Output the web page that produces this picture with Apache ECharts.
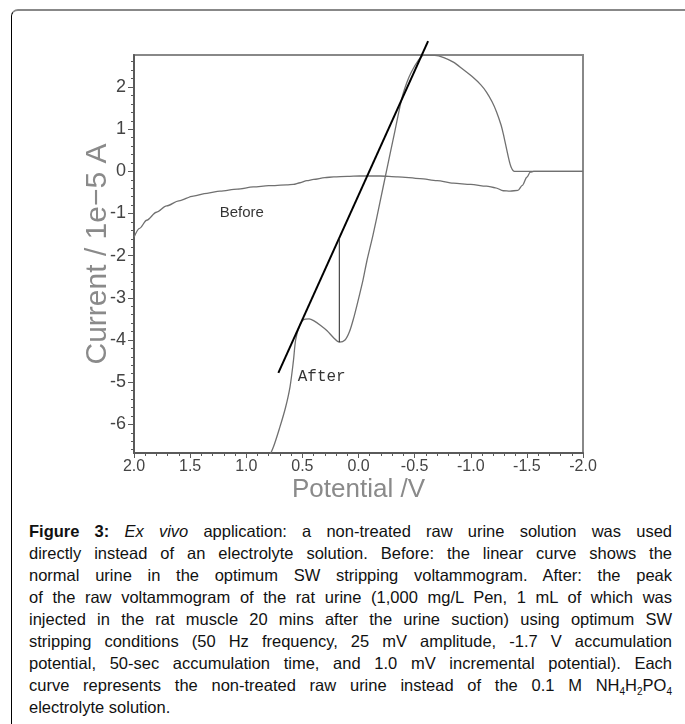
<!DOCTYPE html>
<html>
<head>
<meta charset="utf-8">
<script src="https://cdn.jsdelivr.net/npm/echarts@6/dist/echarts.min.js"></script>
<style>
  html, body { margin: 0; padding: 0; background: #fff; }
  body { width: 685px; height: 724px; position: relative; overflow: hidden; }
  #frame {
    position: absolute; left: 11px; top: 9px; width: 700px; height: 760px;
    border-top: 2px solid #888; border-left: 1px solid #000;
    border-top-left-radius: 7px;
  }
  #chart { position: absolute; left: 0; top: 0; width: 685px; height: 510px; }
  #caption {
    position: absolute; left: 29px; top: 520px; width: 643px;
    font-family: "Liberation Sans", Arial, sans-serif; font-size: 16.5px;
    line-height: 22px; color: #111;
  }
  #caption div { text-align: justify; text-align-last: justify; white-space: nowrap; }
  #caption div.last { text-align-last: left; }
  #caption sub { font-size: 10px; line-height: 0; }
</style>
</head>
<body>
<div id="frame"></div>
<div id="chart"></div>
<div id="caption">
  <div><b>Figure 3:</b> <i>Ex vivo</i> application: a non-treated raw urine solution was used</div>
  <div>directly instead of an electrolyte solution. Before: the linear curve shows the</div>
  <div>normal urine in the optimum SW stripping voltammogram. After: the peak</div>
  <div>of the raw voltammogram of the rat urine (1,000 mg/L Pen, 1 mL of which was</div>
  <div>injected in the rat muscle 20 mins after the urine suction) using optimum SW</div>
  <div>stripping conditions (50 Hz frequency, 25 mV amplitude, -1.7 V accumulation</div>
  <div>potential, 50-sec accumulation time, and 1.0 mV incremental potential). Each</div>
  <div>curve represents the non-treated raw urine instead of the 0.1 M NH<sub>4</sub>H<sub>2</sub>PO<sub>4</sub></div>
  <div class="last">electrolyte solution.</div>
</div>
<script>
  // potential (V) and current (1e-5 A)
  var beforeV = [2.0, 1.95, 1.887, 1.8, 1.709, 1.6, 1.472, 1.35, 1.234, 1.08, 0.937, 0.8, 0.64, 0.58, 0.52, 0.46, 0.4, 0.3, 0.22, 0.1, -0.01, -0.19, -0.35, -0.548, -0.7, -0.845, -1.0, -1.14, -1.22, -1.29, -1.35, -1.42, -1.46, -1.5, -1.53, -1.56, -2.0]
  var beforeI = [-1.56, -1.35, -1.16, -0.97, -0.82, -0.7, -0.585, -0.52, -0.47, -0.42, -0.37, -0.34, -0.32, -0.31, -0.27, -0.22, -0.19, -0.15, -0.13, -0.12, -0.11, -0.11, -0.13, -0.17, -0.22, -0.28, -0.31, -0.35, -0.39, -0.46, -0.47, -0.45, -0.33, -0.14, -0.02, 0, 0]

  var afterV = [0.82, 0.76, 0.7, 0.65, 0.61, 0.58, 0.56, 0.53, 0.49, 0.44, 0.4, 0.34, 0.28, 0.22, 0.17, 0.12, 0.08, 0.04, 0.016, -0.04, -0.075, -0.13, -0.19, -0.25, -0.32, -0.385, -0.43, -0.47, -0.53, -0.58, -0.68, -0.76, -0.845, -0.93, -1.02, -1.09, -1.14, -1.19, -1.23, -1.27, -1.29, -1.335, -1.36, -1.39, -2.0]
  var afterI = [-6.9, -6.55, -6.06, -5.6, -5.11, -4.5, -4.0, -3.7, -3.52, -3.5, -3.54, -3.65, -3.78, -3.95, -4.05, -4.0, -3.8, -3.45, -3.2, -2.58, -2.12, -1.5, -0.75, 0.02, 0.9, 1.72, 2.1, 2.35, 2.62, 2.75, 2.75, 2.7, 2.59, 2.42, 2.23, 2.05, 1.88, 1.65, 1.41, 1.1, 0.89, 0.34, 0.1, 0, 0]

  var tangentV = [0.714, -0.62]
  var tangentI = [-4.78, 3.09]
  var dropV = [0.171, 0.171]
  var dropI = [-4.05, -1.58]

  var noteNames = ['Before', 'After']
  var noteFonts = ['Liberation Sans', 'Liberation Mono']
  var noteV = [1.04, 0.328]
  var noteI = [-0.99, -4.87]

  var xTicks = ['2.0', '1.5', '1.0', '0.5', '0.0', '-0.5', '-1.0', '-1.5', '-2.0']
  var yLabels = [-6, -5, -4, -3, -2, -1, 0, 1, 2]

  function pairs(xs, ys) {
    return xs.map(function(x, i) { return [x, ys[i]] })
  }

  var minorY = []
  for (var k = -33; k <= 13; k++) minorY.push(+(k * 0.2).toFixed(1))

  var chart = echarts.init(document.getElementById('chart'))
  var axisGray = '#5a5a5a'

  chart.setOption({
    animation: false,
    grid: {
      left: 134, top: 55, width: 449, height: 398,
      show: true, borderColor: '#888', borderWidth: 2
    },
    xAxis: {
      type: 'value', min: -2, max: 2, interval: 0.5, inverse: true,
      name: 'Potential /V', nameLocation: 'middle', nameGap: 24, nameMoveOverlap: false,
      nameTextStyle: { color: '#8a8a8a', fontSize: 26, fontFamily: 'Liberation Sans' },
      axisLine: { show: true, onZero: false, lineStyle: { color: axisGray, width: 2 } },
      axisTick: { show: true, length: 5, lineStyle: { color: axisGray } },
      minorTick: { show: true, splitNumber: 5, length: 3, lineStyle: { color: axisGray } },
      axisLabel: {
        color: '#444', fontSize: 16, fontFamily: 'Liberation Sans', margin: 6,
        formatter: function(v) { return xTicks[Math.round((2 - v) / 0.5)] }
      },
      splitLine: { show: false }
    },
    yAxis: [{
      type: 'value', min: -6.68, max: 2.76,
      name: 'Current / 1e\u22125 A', nameLocation: 'middle', nameGap: 21, nameMoveOverlap: false,
      nameTextStyle: { color: '#8a8a8a', fontSize: 30, fontFamily: 'Liberation Sans' },
      axisLine: { show: true, onZero: false, lineStyle: { color: axisGray, width: 2 } },
      axisTick: { show: true, length: 6, customValues: yLabels, lineStyle: { color: axisGray } },
      axisLabel: {
        color: '#444', fontSize: 18, fontFamily: 'Liberation Sans', margin: 8,
        customValues: yLabels
      },
      splitLine: { show: false }
    }, {
      type: 'value', min: -6.68, max: 2.76, position: 'left',
      axisLine: { show: false, onZero: false },
      axisTick: { show: true, length: 3, customValues: minorY, lineStyle: { color: axisGray } },
      axisLabel: { show: false },
      splitLine: { show: false }
    }],
    series: [{
      name: 'Before', type: 'line', data: pairs(beforeV, beforeI),
      showSymbol: false, smooth: 0.3, smoothMonotone: 'x',
      lineStyle: { color: '#707070', width: 1.3 }
    }, {
      name: 'After', type: 'line', data: pairs(afterV, afterI),
      showSymbol: false, smooth: 0.3,
      lineStyle: { color: '#707070', width: 1.3 }
    }, {
      name: 'tangent', type: 'line', data: pairs(tangentV, tangentI),
      showSymbol: false, clip: false,
      lineStyle: { color: '#000', width: 2 }
    }, {
      name: 'drop', type: 'line', data: pairs(dropV, dropI),
      showSymbol: false,
      lineStyle: { color: '#222', width: 1 }
    }, {
      name: 'notes', type: 'scatter',
      data: noteNames.map(function(n, i) {
        return {
          value: [noteV[i], noteI[i]], name: n,
          label: { fontFamily: noteFonts[i], fontSize: i === 1 ? 16 : 15 }
        }
      }),
      symbolSize: 1, itemStyle: { color: 'rgba(0,0,0,0)' },
      label: {
        show: true, position: 'inside', color: '#000',
        formatter: function(p) { return p.name }
      }
    }]
  })
</script>
</body>
</html>
